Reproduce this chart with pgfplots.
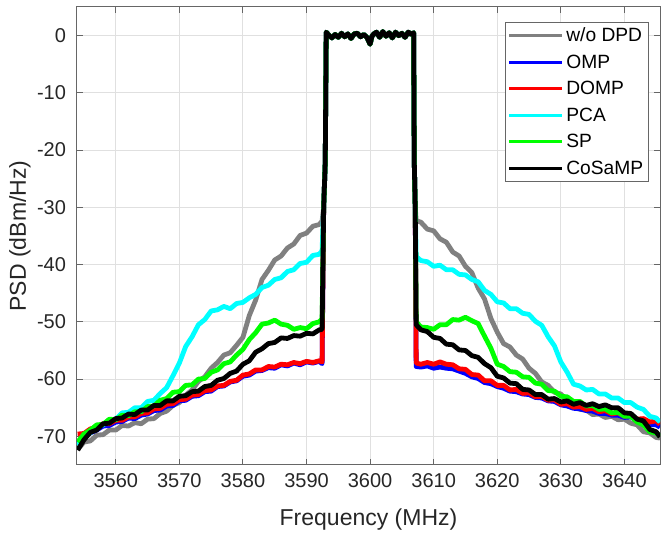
\documentclass[border=0pt]{standalone}
\usepackage{fontspec}
\setmainfont{Liberation Sans}
\usepackage{pgfplots}
\usepackage{pgfplotstable}
\pgfplotsset{compat=1.18}
\definecolor{gridc}{rgb}{0.88,0.88,0.88}
\definecolor{axc}{rgb}{0.15,0.15,0.15}
\definecolor{boxc}{rgb}{0.4,0.4,0.4}
\definecolor{mgray}{rgb}{0.5,0.5,0.5}
\definecolor{mblue}{rgb}{0,0,1}
\definecolor{mred}{rgb}{1,0,0}
\definecolor{mcyan}{rgb}{0,1,1}
\definecolor{mgreen}{rgb}{0,1,0}

\pgfplotstableread{
x       gray   omp    domp   pca    sp     cos
3554    -72.3  -71.2  -69.6  -71.6  -71.0  -72.4
3555    -71.0  -70.1  -69.5  -70.0  -69.6  -70.6
3556    -70.8  -69.4  -68.7  -69.4  -68.9  -69.3
3557    -69.8  -68.9  -68.5  -68.2  -68.0  -68.9
3558    -69.7  -68.2  -67.8  -68.0  -67.9  -67.8
3559    -68.9  -68.1  -67.8  -67.1  -67.0  -67.7
3560    -68.9  -67.5  -67.2  -67.0  -67.1  -66.9
3561    -68.1  -67.4  -67.2  -65.9  -66.3  -66.8
3562    -68.2  -66.8  -66.6  -65.8  -66.4  -66.1
3563    -67.6  -66.9  -66.6  -65.0  -65.7  -66.2
3564    -67.8  -66.3  -66.0  -65.0  -65.7  -65.4
3565    -67.0  -66.1  -65.9  -63.9  -64.8  -65.4
3566    -66.9  -65.5  -65.2  -63.7  -64.7  -64.6
3567    -66.0  -65.4  -65.1  -62.5  -63.7  -64.6
3568    -65.6  -64.7  -64.4  -61.5  -63.4  -63.8
3569    -64.6  -64.6  -64.3  -59.4  -62.3  -63.8
3570    -64.1  -63.8  -63.6  -57.2  -62.2  -63.0
3571    -62.8  -63.7  -63.5  -54.3  -61.1  -62.9
3572    -61.9  -63.0  -62.8  -52.6  -61.0  -62.2
3573    -60.4  -62.9  -62.7  -50.5  -60.0  -62.1
3574    -59.6  -62.2  -62.0  -49.6  -59.9  -61.3
3575    -58.1  -62.1  -61.9  -48.1  -58.8  -61.1
3576    -57.1  -61.3  -61.2  -47.9  -58.4  -60.2
3577    -55.8  -61.2  -61.1  -47.3  -57.3  -59.9
3578    -55.4  -60.5  -60.4  -47.7  -57.0  -59.0
3579    -54.1  -60.3  -60.2  -46.8  -55.8  -58.6
3580    -52.7  -59.5  -59.3  -46.6  -54.8  -57.4
3581    -48.9  -59.3  -59.1  -45.8  -53.1  -56.8
3582    -46.2  -58.6  -58.4  -45.2  -51.9  -55.3
3583    -42.6  -58.5  -58.4  -44.0  -50.4  -54.7
3584    -41.0  -58.0  -57.8  -43.6  -50.2  -53.8
3585    -39.2  -58.1  -57.9  -42.6  -49.7  -53.6
3586    -38.5  -57.5  -57.4  -42.3  -50.4  -52.8
3587    -37.1  -57.7  -57.5  -41.2  -50.6  -52.9
3588    -36.4  -57.2  -57.1  -40.9  -51.3  -52.4
3589    -34.9  -57.5  -57.3  -39.8  -51.0  -52.5
3590    -34.5  -57.0  -56.9  -39.6  -51.2  -52.0
3591    -33.3  -57.2  -57.1  -38.4  -50.3  -52.1
3592    -33.0  -56.9  -56.8  -38.2  -50.0  -51.4
3592.45 -32.4  -57.3  -57.0  -37.6  -49.5  -51.3
3592.7  -30.0  -30.0  -30.0  -30.0  -30.0  -30.0
3592.95 -22.0  -22.0  -22.0  -22.0  -22.0  -22.0
3593.1  0.6    0.6    0.6    0.6    0.6    0.6
3593.5  0.1    0.1    0.1    0.1    0.1    0.1
3594    -0.4   -0.4   -0.4   -0.4   -0.4   -0.4
3594.5  0.2    0.2    0.2    0.2    0.2    0.2
3595    -0.3   -0.3   -0.3   -0.3   -0.3   -0.3
3595.5  0.4    0.4    0.4    0.4    0.4    0.4
3596    -0.2   -0.2   -0.2   -0.2   -0.2   -0.2
3596.5  0.3    0.3    0.3    0.3    0.3    0.3
3597    -0.5   -0.5   -0.5   -0.5   -0.5   -0.5
3597.5  0.3    0.3    0.3    0.3    0.3    0.3
3598    0.4    0.4    0.4    0.4    0.4    0.4
3598.5  -0.2   -0.2   -0.2   -0.2   -0.2   -0.2
3599    0.2    0.2    0.2    0.2    0.2    0.2
3599.5  -0.3   -0.3   -0.3   -0.3   -0.3   -0.3
3600    -1.5   -1.5   -1.5   -1.5   -1.5   -1.5
3600.3  -0.1   -0.1   -0.1   -0.1   -0.1   -0.1
3600.6  0.3    0.3    0.3    0.3    0.3    0.3
3601    0.6    0.6    0.6    0.6    0.6    0.6
3601.5  -0.3   -0.3   -0.3   -0.3   -0.3   -0.3
3602    0.7    0.7    0.7    0.7    0.7    0.7
3602.5  -0.1   -0.1   -0.1   -0.1   -0.1   -0.1
3603    0.5    0.5    0.5    0.5    0.5    0.5
3603.5  -0.4   -0.4   -0.4   -0.4   -0.4   -0.4
3604    0.6    0.6    0.6    0.6    0.6    0.6
3604.5  0.0    0.0    0.0    0.0    0.0    0.0
3605    0.4    0.4    0.4    0.4    0.4    0.4
3605.5  -0.3   -0.3   -0.3   -0.3   -0.3   -0.3
3606    0.6    0.6    0.6    0.6    0.6    0.6
3606.5  0.2    0.2    0.2    0.2    0.2    0.2
3606.85 0.5    0.5    0.5    0.5    0.5    0.5
3606.95 -22.0  -22.0  -22.0  -22.0  -22.0  -22.0
3607.1  -30.0  -30.0  -30.0  -30.0  -30.0  -30.0
3607.25 -32.3  -57.8  -57.2  -38.6  -50.0  -50.5
3608    -32.6  -57.9  -57.4  -39.3  -50.9  -51.4
3609    -33.8  -57.7  -57.1  -39.5  -51.0  -51.7
3610    -34.1  -58.1  -57.4  -40.3  -51.3  -52.7
3611    -35.5  -57.9  -57.0  -40.1  -50.5  -52.9
3612    -36.1  -58.1  -57.4  -40.9  -50.5  -53.9
3613    -37.8  -58.2  -57.5  -40.9  -49.6  -54.0
3614    -38.5  -58.6  -58.2  -41.7  -49.7  -54.9
3615    -40.3  -59.0  -58.3  -41.8  -49.2  -55.0
3616    -41.4  -59.6  -59.2  -42.6  -49.8  -55.9
3617    -44.1  -59.9  -59.3  -43.0  -50.3  -56.2
3618    -46.0  -60.6  -60.3  -44.5  -52.5  -57.3
3619    -49.4  -60.8  -60.3  -45.2  -54.6  -58.0
3620    -51.8  -61.3  -61.1  -46.5  -57.4  -59.5
3621    -53.8  -61.6  -61.1  -46.7  -57.8  -59.8
3622    -54.4  -62.1  -61.9  -47.7  -58.7  -60.7
3623    -55.8  -62.2  -61.8  -47.7  -58.8  -60.8
3624    -56.5  -62.6  -62.5  -48.5  -59.6  -61.8
3625    -58.1  -62.7  -62.4  -48.7  -59.7  -61.9
3626    -59.0  -63.2  -63.1  -49.9  -60.7  -62.7
3627    -60.5  -63.3  -63.0  -50.6  -60.9  -62.7
3628    -61.1  -63.8  -63.7  -52.6  -62.0  -63.5
3629    -62.3  -63.9  -63.6  -54.2  -62.1  -63.4
3630    -62.6  -64.5  -64.4  -57.0  -63.0  -64.0
3631    -63.7  -64.7  -64.3  -58.8  -63.1  -63.8
3632    -64.2  -65.1  -64.9  -60.9  -63.9  -64.4
3633    -65.3  -65.2  -64.8  -61.2  -63.9  -64.1
3634    -65.4  -65.5  -65.3  -61.9  -64.7  -64.6
3635    -66.2  -65.6  -65.1  -61.8  -64.6  -64.3
3636    -66.1  -66.0  -65.7  -62.6  -65.3  -64.8
3637    -66.7  -66.0  -65.5  -62.6  -65.2  -64.5
3638    -66.5  -66.3  -66.1  -63.3  -65.9  -65.0
3639    -67.1  -66.3  -65.9  -63.3  -65.8  -65.0
3640    -67.0  -66.7  -66.5  -64.1  -66.5  -65.9
3641    -67.7  -66.6  -66.3  -64.1  -66.5  -66.0
3642    -68.0  -67.2  -67.0  -64.9  -67.5  -67.0
3643    -69.2  -67.3  -66.9  -65.3  -68.0  -67.3
3644    -69.4  -67.9  -67.5  -66.5  -69.2  -68.8
3645    -70.2  -68.0  -67.3  -66.8  -69.4  -69.2
3645.6  -70.3  -68.4  -67.9  -67.5  -70.0  -70.1
}\psd

\begin{document}
\begin{tikzpicture}
\begin{axis}[name=ax, scale only axis, width=291.5pt, height=229pt,
  xmin=3553.9, xmax=3645.6, ymin=-75, ymax=5,
  xtick={3560,3570,...,3640}, ytick={-70,-60,...,0},
  grid=major, major grid style={draw=gridc, line width=0.5pt},
  axis line style={draw=boxc, line width=0.5pt},
  tick style={draw=boxc, line width=0.5pt}, major tick length=3pt, tick align=inside,
  ticklabel style={font=\fontsize{10}{12}\selectfont, text=axc},
  yticklabel style={xshift=-2pt},
  xticklabel style={yshift=-0.7pt},
  /pgf/number format/assume math mode=true,
  /pgf/number format/1000 sep={},
  xlabel={Frequency (MHz)}, ylabel={PSD (dBm/Hz)},
  xlabel style={font=\fontsize{11.5}{13}\selectfont, text=axc, at={(axis description cs:0.5,-0.1201)}, anchor=center},
  ylabel style={font=\fontsize{11.5}{13}\selectfont, text=axc, at={(axis description cs:-0.0978,0.5)}, anchor=center},
  legend style={at={(1,1)}, anchor=north east, xshift=-5.65pt, yshift=-7.35pt,
    draw=boxc, line width=0.5pt, fill=white, inner xsep=1.25pt, inner ysep=1pt,
    row sep=1.85pt, font=\fontsize{9.6}{11}\selectfont, text=black,
    nodes={inner xsep=1.25pt, inner ysep=1.1pt}},
  legend cell align=left,
  legend image code/.code={\draw[#1, line width=1.5pt] (0pt,0pt) -- (26.5pt,0pt);},
  every axis plot/.append style={line width=2.4pt, line join=round},
]
\addplot[mgray]  table[x=x, y=gray] {\psd};
\addlegendentry{\strut w/o DPD}
\addplot[mblue]  table[x=x, y=omp]  {\psd};
\addlegendentry{\strut OMP}
\addplot[mred]   table[x=x, y=domp] {\psd};
\addlegendentry{\strut DOMP}
\addplot[mcyan]  table[x=x, y=pca]  {\psd};
\addlegendentry{\strut PCA}
\addplot[mgreen] table[x=x, y=sp]   {\psd};
\addlegendentry{\strut SP}
\addplot[black] table[x=x, y=cos]  {\psd};
\addlegendentry{\strut CoSaMP}
\end{axis}
\pgfresetboundingbox
\path ([xshift=-38.5pt,yshift=-35pt]ax.south west) rectangle ([xshift=0.5pt,yshift=3.5pt]ax.north east);
\end{tikzpicture}
\end{document}
